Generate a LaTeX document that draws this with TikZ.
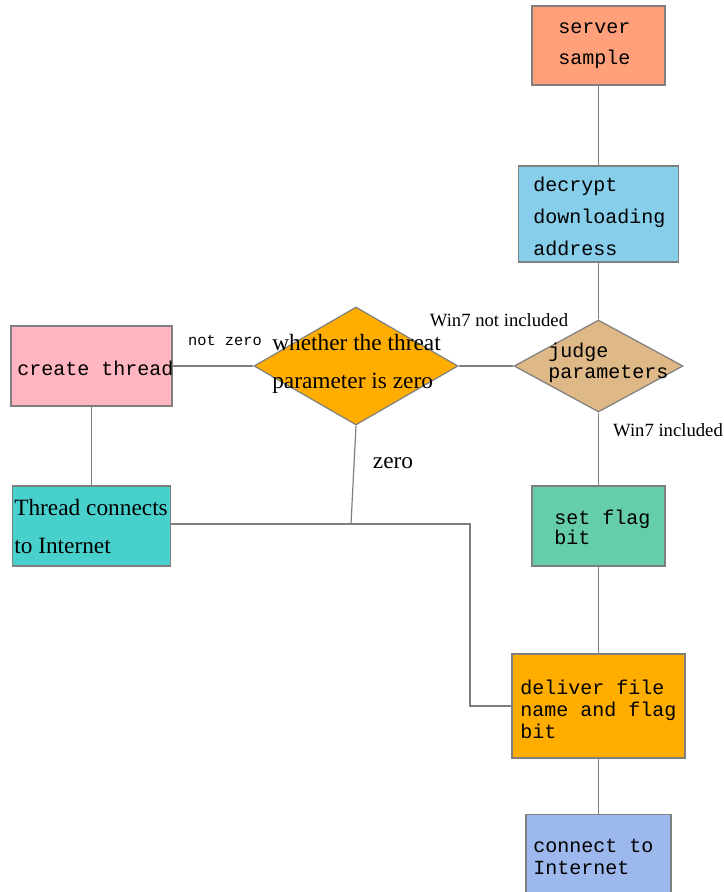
\documentclass[tikz,border=0pt]{standalone}
\usepackage{fontspec}
\usetikzlibrary{shapes.geometric}
\newfontfamily\monof{Liberation Mono}
\newfontfamily\serf{Liberation Serif}
\definecolor{lc}{HTML}{7F7F7F}
\definecolor{cserver}{HTML}{FFA07A}
\definecolor{cdecrypt}{HTML}{87CEEB}
\definecolor{cjudge}{HTML}{DEB887}
\definecolor{cwhether}{HTML}{FFAE00}
\definecolor{ccreate}{HTML}{FFB6C1}
\definecolor{cthread}{HTML}{48D1CC}
\definecolor{cflag}{HTML}{66CDAA}
\definecolor{cdeliver}{HTML}{FFAE00}
\definecolor{cconnect}{HTML}{9DB8EC}
\begin{document}
\begin{tikzpicture}[x=0.75pt,y=-0.75pt,
  box/.style={draw=lc, line width=0.9pt, inner sep=0pt},
  dia/.style={diamond, draw=lc, line width=0.9pt, inner sep=0pt},
  conn/.style={draw=lc, line width=0.9pt},
  txt/.style={anchor=west, align=left, inner sep=0pt},
  mono/.style={font={\monof\fontsize{15}{#1}\selectfont}},
  ser/.style={font={\serf\fontsize{17.5}{28.5}\selectfont}},
  lab/.style={inner sep=0pt}]
\useasboundingbox (0,0) rectangle (724,892);
\clip (0,0) rectangle (724,892);
\fill[white] (0,0) rectangle (724,892);
% shapes
\node[box, fill=cserver, minimum width=99.75pt, minimum height=59.25pt] (server) at (598.5,45.5) {};
\node[box, fill=cdecrypt, minimum width=120pt, minimum height=72pt] (decrypt) at (598.5,214) {};
\node[dia, fill=cjudge, minimum width=126.75pt, minimum height=69pt] (judge) at (598.5,366) {};
\node[dia, fill=cwhether, minimum width=153pt, minimum height=88.5pt] (whether) at (356,366) {};
\node[box, fill=ccreate, minimum width=120.75pt, minimum height=60pt] (create) at (91.5,366) {};
\node[box, fill=cthread, minimum width=118.5pt, minimum height=60pt] (thread) at (91.5,526) {};
\node[box, fill=cflag, minimum width=99.75pt, minimum height=60pt] (flag) at (598.5,526) {};
\node[box, fill=cdeliver, minimum width=129.75pt, minimum height=78pt] (deliver) at (598.5,706) {};
\node[box, fill=cconnect, minimum width=108.75pt, minimum height=70pt] (connect) at (598.5,861) {};
% texts
\node[txt, mono=23.25pt] (tserver) at (558,46) {server\\sample};
\node[txt, mono=24pt] (tdecrypt) at (533,216) {decrypt\\downloading\\address};
\node[txt, mono=15.75pt] (tjudge) at (548,363) {judge\\parameters};
\node[txt, ser] (twhether) at (272,364) {whether the threat\\parameter is zero};
\node[txt, mono=15pt] (tcreate) at (17,368) {create thread};
\node[txt, ser] (tthread) at (14,527) {Thread connects\\to Internet};
\node[txt, mono=15pt] (tflag) at (554,527) {set flag\\bit};
\node[txt, mono=16.5pt] (tdeliver) at (520,709) {deliver file\\name and flag\\bit};
\node[txt, mono=16.5pt] (tconnect) at (533,857) {connect to\\Internet};
% connectors
\coordinate (k) at (470,524);
\coordinate (j) at (351,524);
\draw[conn] (server.south) -- (decrypt.north);
\draw[conn] (decrypt.south) -- (judge.north);
\draw[conn] (judge.west) -- (whether.east);
\draw[conn] (whether.west) -- (create.east);
\draw[conn] (create.south) -- (thread.north);
\draw[conn] (judge.south) -- (flag.north);
\draw[conn] (flag.south) -- (deliver.north);
\draw[conn] (deliver.south) -- (connect.north);
\draw[conn] (whether.south) -- (j);
\draw[conn] (thread.east |- k) -- (k) |- (deliver.west);
% labels
\node[lab, font={\monof\fontsize{11.5}{13}\selectfont}] (lnz) at (225,340) {not zero};
\node[lab, font={\serf\fontsize{14}{16}\selectfont}] (lwn) at (499,320) {Win7 not included};
\node[lab, font={\serf\fontsize{14}{16}\selectfont}] (lwi) at (668,430) {Win7 included};
\node[lab, font={\serf\fontsize{17.5}{20}\selectfont}] (lz) at (393,463) {zero};
\end{tikzpicture}
\end{document}
